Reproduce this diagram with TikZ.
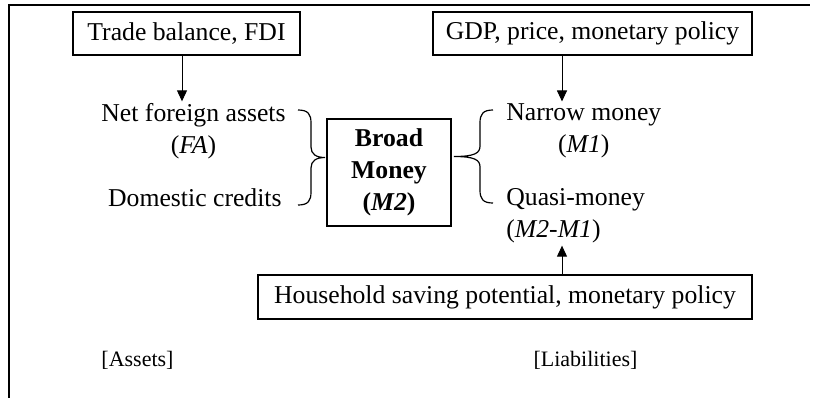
\documentclass[tikz,border=0pt]{standalone}
\usepackage{fontspec}
\setmainfont{Liberation Serif}
\usetikzlibrary{arrows.meta}

\begin{document}
\begin{tikzpicture}[x=0.5pt,y=-0.5pt,
  box/.style={draw,line width=0.7pt,inner sep=0pt,align=center,font=\fontsize{12.85}{16}\selectfont},
  lbl/.style={inner sep=1pt,align=center,font=\fontsize{12.85}{16}\selectfont},
  side/.style={inner sep=1pt,font=\fontsize{11}{13}\selectfont},
  arr/.style={-{Triangle[length=5.5pt,width=5pt]},line width=0.5pt},
  brc/.style={line width=0.6pt}]
\useasboundingbox (0,0) rectangle (814,398);
\draw[line width=0.7pt] (8,5) -- (810,5); \draw[line width=0.7pt] (9,5) -- (9,398);
% driving factors
\node[box,minimum width=113.5pt,minimum height=21.5pt] (trade) at (186.5,33.5) {Trade balance, FDI};
\node[box,minimum width=159.5pt,minimum height=21.5pt] (gdp) at (592.5,33.5) {GDP, price, monetary policy};
\node[box,minimum width=247pt,minimum height=22pt] (house) at (505,297) {Household saving potential, monetary policy};
% assets side
\node[lbl] (nfa) at (193.5,131.5) {Net foreign assets\\(\textit{FA})};
\node[lbl,anchor=east] (dom) at (284,198) {Domestic credits};
% broad money
\node[box,minimum width=62pt,minimum height=53.5pt] (m2) at (389,172.5) {\textbf{Broad}\\\textbf{Money}\\\textbf{(\textit{M2})}};
% liabilities side
\node[lbl,anchor=west] (narrow) at (504,131) {Narrow money\\(\textit{M1})};
\node[lbl,anchor=west,align=left] (quasi) at (504,216) {Quasi-money\\(\textit{M2-M1})};
\node[side] (assets) at (137.5,360) {[Assets]}; \node[side] (liab) at (585.5,360) {[Liabilities]};
% braces
\coordinate (lt) at (298,110); \coordinate (ltip) at (325,157.5); \coordinate (lb) at (298,205);
\coordinate (rt) at (493,110); \coordinate (rtip) at (454,156.5); \coordinate (rb) at (493,203);
\draw[brc] (lt) .. controls (308,110) and (311,114) .. (311,123) -- (311,147) .. controls (311,154) and (316,157.5) .. (ltip)
  .. controls (316,157.5) and (311,161) .. (311,168) -- (311,192) .. controls (311,201) and (308,205) .. (lb);
\draw[brc] (rt) .. controls (483,110) and (480,114) .. (480,123) -- (480,146) .. controls (480,153) and (475,156.5) .. (rtip)
  .. controls (475,156.5) and (480,160) .. (480,167) -- (480,190) .. controls (480,199) and (483,203) .. (rb);
% arrows
\draw[arr] ([xshift=-2.25pt]trade.south) -- ([xshift=-2.25pt]trade.south |- nfa.north);
\draw[arr] ([xshift=-15.25pt]gdp.south) -- ([xshift=-15.25pt]gdp.south |- narrow.north);
\draw[arr] ([xshift=28.5pt]house.north) -- ([xshift=28.5pt]house.north |- quasi.south);
\end{tikzpicture}
\end{document}
